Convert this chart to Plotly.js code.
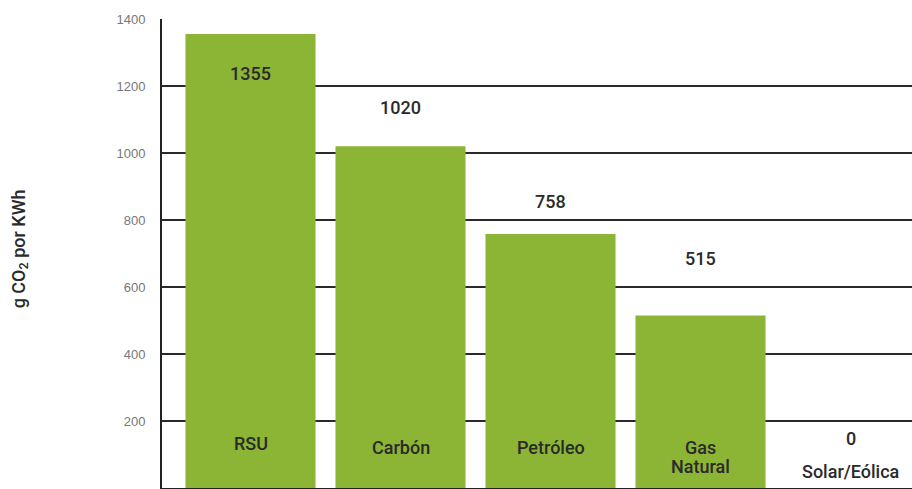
<!DOCTYPE html>
<html><head><meta charset="utf-8">
<script src="https://cdn.plot.ly/plotly-3.0.1.min.js"></script>
<style>html,body{margin:0;padding:0;background:#fff}</style>
</head><body>
<div id="chart" style="width:912px;height:489px"></div>
<script>
var categories = ["RSU", "Carbón", "Petróleo", "Gas Natural", "Solar/Eólica"];
var categoryLabels = [["RSU"], ["Carbón"], ["Petróleo"], ["Gas", "Natural"], ["Solar/Eólica"]];
var values = [1355, 1020, 758, 515, 0];
var valueLabels = ["1355", "1020", "758", "515", "0"];
var yTicks = [0, 200, 400, 600, 800, 1000, 1200, 1400];

var fam = "Roboto, 'DejaVu Sans Condensed', Arial, sans-serif";
var labelFont = {family: fam, size: 18, color: "#2a2a2a", weight: 500};
// pixel offsets of the value labels relative to bar tops
var valueShift = [-39, 39, 33, 57, 50];
// category label pixel positions from bottom
var catShift = [45, 41, 41, 31, 17];
var lineGap = 19;

var annotations = [];
for (var i = 0; i < categories.length; i++) {
  annotations.push({x: categories[i], y: values[i], xref: 'x', yref: 'y', text: valueLabels[i],
    showarrow: false, yshift: valueShift[i], font: labelFont, yanchor: 'middle'});
  var lines = categoryLabels[i];
  for (var j = 0; j < lines.length; j++) {
    var off = ((lines.length - 1) / 2 - j) * lineGap;
    annotations.push({x: categories[i], y: 0, xref: 'x', yref: 'y', text: lines[j],
      showarrow: false, yshift: catShift[i] + off, font: labelFont, yanchor: 'middle'});
  }
}
annotations.push({x: -0.19, y: 0.51, xref: 'paper', yref: 'paper', xanchor: 'center', yanchor: 'middle',
  text: 'g CO<sub>2</sub> por KWh',
  textangle: -90, showarrow: false, font: {family: fam, size: 18, color: '#2a2a2a', weight: 500}});

var trace = {type: 'bar', x: categories, y: values, marker: {color: '#8cb535'}, hoverinfo: 'none'};

var layout = {
  width: 912, height: 489,
  margin: {l: 162, r: 0, t: 19, b: 1},
  paper_bgcolor: '#fff', plot_bgcolor: '#fff',
  showlegend: false, bargap: 0.133,
  xaxis: {range: [-0.59, 4.41], showticklabels: false, ticks: '', showgrid: false, zeroline: false,
    showline: true, linecolor: '#222', linewidth: 2},
  yaxis: {range: [0, 1400], tickvals: yTicks, ticktext: yTicks.map(String), showgrid: true, gridcolor: '#2a2a2a', gridwidth: 2,
    zeroline: false, showline: true, linecolor: '#222', linewidth: 2, ticks: '',
    ticklabelstandoff: 12, tickfont: {family: 'Liberation Sans, Arial, sans-serif', size: 13, color: '#777'}},
  annotations: annotations
};
Plotly.newPlot('chart', [trace], layout, {displayModeBar: false, staticPlot: true});
</script>
</body></html>
